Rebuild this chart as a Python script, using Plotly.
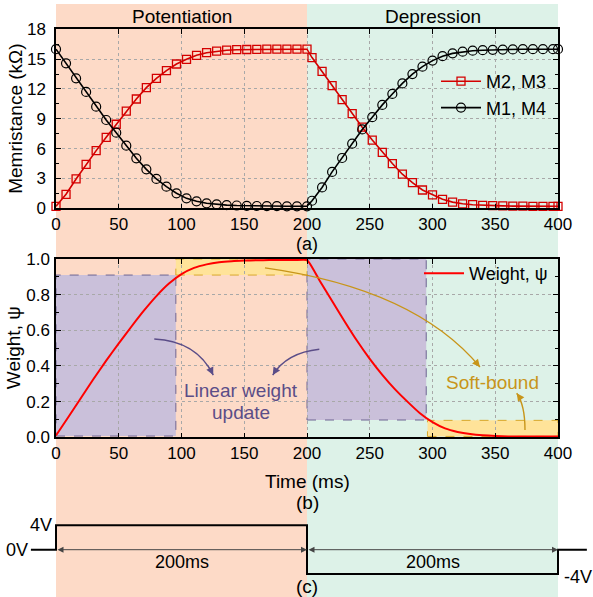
import plotly.graph_objects as go

# ---------------- data ----------------
# (a) memristance of the bridge memristors, sampled every pulse
t_m = [0, 8, 16, 24, 32, 40, 48, 56, 64, 72, 80, 88, 96, 104, 112, 120, 128, 136, 144, 152,
       160, 168, 176, 184, 192, 200,
       204, 212, 220, 228, 236, 244, 252, 260, 268, 276, 284, 292, 300, 308, 316, 324, 332,
       340, 348, 356, 364, 372, 380, 388, 396, 400]
m23 = [0.2, 1.41, 2.95, 4.42, 5.8, 7.14, 8.45, 9.78, 10.99, 12.13, 13.07, 13.84, 14.51, 14.98,
       15.38, 15.65, 15.8, 15.9, 15.95, 15.97, 15.99, 16.0, 16.0, 16.0, 16.0, 16.0,
       15.16, 13.76, 12.33, 10.93, 9.53, 8.16, 6.86, 5.63, 4.5, 3.43, 2.58, 1.84, 1.34, 0.9,
       0.62, 0.45, 0.36, 0.3, 0.26, 0.24, 0.22, 0.21, 0.2, 0.2, 0.2, 0.2]
m14 = [16.0, 14.58, 13.07, 11.7, 10.22, 8.88, 7.6, 6.3, 5.03, 3.92, 2.95, 2.17, 1.51, 1.0,
       0.7, 0.5, 0.4, 0.32, 0.28, 0.25, 0.23, 0.22, 0.21, 0.2, 0.2, 0.2,
       0.76, 2.1, 3.66, 5.06, 6.5, 7.93, 9.16, 10.4, 11.5, 12.56, 13.5, 14.24, 14.85, 15.3,
       15.58, 15.75, 15.85, 15.9, 15.94, 15.96, 15.98, 16.0, 16.0, 16.0, 16.0, 16.0]

# (b) synaptic weight
t_w = [0, 10, 20, 30, 40, 50, 60, 70, 80, 90, 100, 110, 120, 130, 140, 150, 160, 170, 180, 190,
       200, 210, 220, 230, 240, 250, 260, 270, 280, 290, 300, 310, 320, 330, 340, 350, 360, 370,
       380, 390, 400]
psi = [0.01, 0.115, 0.222, 0.328, 0.43, 0.527, 0.62, 0.71, 0.792, 0.862, 0.915, 0.95, 0.97,
       0.982, 0.988, 0.991, 0.993, 0.994, 0.994, 0.994,
       0.994, 0.88, 0.765, 0.65, 0.54, 0.44, 0.35, 0.27, 0.2, 0.135, 0.085, 0.05, 0.03, 0.018,
       0.011, 0.007, 0.005, 0.004, 0.004, 0.004, 0.004]

# linear-update and soft-bound regions: (t_start, t_end, psi_low, psi_high)
linear_regions = [(0, 95.5, 0.007, 0.91), (200, 295, 0.097, 1.0)]
soft_regions = [(95.5, 200, 0.91, 1.0), (296, 400, 0.005, 0.095)]

# (c) applied voltage pulse
pulse_t = [-20, 0, 0, 200, 200, 400, 400, 423]
pulse_v = [0, 0, 4, 4, -4, -4, 0, 0]
pulse_spans = [(0, 200), (200, 400)]
pulse_labels = ["200ms", "200ms"]

phases = [("Potentiation", 0, 200, "#FDDAC7"), ("Depression", 200, 400, "#DDF2E8")]
t_ticks = [0, 50, 100, 150, 200, 250, 300, 350, 400]
m_ticks = [0, 3, 6, 9, 12, 15, 18]
w_ticks = [0.0, 0.2, 0.4, 0.6, 0.8, 1.0]

# ---------------- layout geometry (pixels) ----------------
W, H = 593, 597
X0, X1 = 56, 558
A_TOP, A_BOT = 29.3, 208.3
B_TOP, B_BOT = 259, 437.3
V0_PX, V4_PX = 549.7, 525.3
FONT = "Liberation Sans, Arial, sans-serif"
RED_A = "#D40000"
RED_B = "#FF0000"
PURPLE = "#5B4D88"
GOLD = "#C8951A"


def py(p):
    return 1 - p / H


def label(text, xref, yref, x, y, size=19, color="black", **kw):
    d = dict(text=text, xref=xref, yref=yref, x=x, y=y, showarrow=False,
             xanchor="center", yanchor="middle",
             font=dict(size=size, color=color, family=FONT))
    d.update(kw)
    return d


kx = (X1 - X0) / 400.0
ky = B_BOT - B_TOP
kv = (V0_PX - V4_PX) / 4.0

fig = go.Figure()

fig.add_trace(go.Scatter(
    x=t_m, y=m23, mode="lines+markers", name="M2, M3", xaxis="x", yaxis="y",
    line=dict(color=RED_A, width=1.6),
    marker=dict(symbol="square-open", size=8, color=RED_A, line=dict(width=1.3, color=RED_A)),
    cliponaxis=False, legend="legend"))
fig.add_trace(go.Scatter(
    x=t_m, y=m14, mode="lines+markers", name="M1, M4", xaxis="x", yaxis="y",
    line=dict(color="black", width=1.6),
    marker=dict(symbol="circle-open", size=9, color="black", line=dict(width=1.2, color="black")),
    cliponaxis=False, legend="legend"))
fig.add_trace(go.Scatter(
    x=t_w, y=psi, mode="lines", name="Weight, \u03c8", xaxis="x2", yaxis="y2",
    line=dict(color=RED_B, width=2, shape="spline", smoothing=0.5),
    cliponaxis=False, legend="legend2"))
fig.add_trace(go.Scatter(
    x=pulse_t, y=pulse_v, mode="lines", xaxis="x3", yaxis="y3", showlegend=False,
    line=dict(color="black", width=2)))

shapes = []
annotations = []

# phase background bands
for name, t0, t1, col in phases:
    shapes.append(dict(type="rect", xref="x", yref="paper", x0=t0, x1=t1, y0=0, y1=py(4),
                       fillcolor=col, line=dict(width=0), layer="below"))
    annotations.append(label(name, "x", "paper", (t0 + t1) / 2, py(17)))

for t0, t1, p0, p1 in linear_regions:
    shapes.append(dict(type="rect", xref="x2", yref="y2", x0=t0, x1=t1, y0=p0, y1=p1,
                       fillcolor="#CAC0DA", line=dict(color="#6E6492", width=1, dash="dash"),
                       layer="below"))
for t0, t1, p0, p1 in soft_regions:
    shapes.append(dict(type="rect", xref="x2", yref="y2", x0=t0, x1=t1, y0=p0, y1=p1,
                       fillcolor="#FFE399", line=dict(color="#D9A82A", width=1, dash="dash"),
                       layer="below"))

# curved callout arrows in (time, weight) units: start, control, end
callouts = [
    ((78.3, 0.551), (111.9, 0.540), (125.3, 0.349), PURPLE),
    ((209.8, 0.494), (183.8, 0.475), (172.7, 0.349), PURPLE),
    ((166.5, 0.950), (286.1, 0.832), (337.8, 0.394), GOLD),
    ((373.7, 0.041), (373.7, 0.181), (367.1, 0.247), GOLD),
]
for (s, c, e, col) in callouts:
    shapes.append(dict(type="path", xref="x2", yref="y2",
                       path=f"M {s[0]},{s[1]} Q {c[0]},{c[1]} {e[0]},{e[1]}",
                       line=dict(color=col, width=1.4), fillcolor="rgba(0,0,0,0)",
                       layer="above"))
    dx = (e[0] - c[0]) * kx
    dy = -(e[1] - c[1]) * ky
    n = (dx * dx + dy * dy) ** 0.5
    annotations.append(dict(x=e[0], y=e[1], xref="x2", yref="y2", text="", showarrow=True,
                            ax=-7 * dx / n, ay=-7 * dy / n, arrowhead=2, arrowsize=1.1,
                            arrowwidth=1.4, arrowcolor=col, standoff=0))

annotations += [
    label("Linear weight", "x2", "y2", 147.1, 0.265, color=PURPLE),
    label("update", "x2", "y2", 147.1, 0.14, color=PURPLE),
    label("Soft-bound", "x2", "y2", 347.9, 0.31, color=GOLD),
    label("(a)", "x", "paper", 200, py(244), size=18),
    label("Time (ms)", "x", "paper", 200, py(481.5)),
    label("(b)", "x", "paper", 200, py(503)),
    label("(c)", "x3", "paper", 200, py(586)),
    label("Memristance (k\u03a9)", "paper", "paper", 16 / W, py((A_TOP + A_BOT) / 2),
          textangle=-90),
    label("Weight, \u03c8", "paper", "paper", 13 / W, py((B_TOP + B_BOT) / 2), textangle=-90),
    label("4V", "x3", "y3", 0, 4, size=18, xanchor="right", xshift=-2),
    label("0V", "x3", "y3", pulse_t[0], 0, size=18, xanchor="right", xshift=-1),
    label("-4V", "x3", "y3", pulse_t[-3], -4, size=18, xanchor="left", xshift=4, yshift=-3),
]

# duration arrows along the 0 V level
for (t0, t1), lab in zip(pulse_spans, pulse_labels):
    annotations.append(dict(x=t1, y=0, ax=t0, ay=0, xref="x3", yref="y3", axref="x3",
                            ayref="y3", text="", showarrow=True, arrowside="end+start",
                            arrowhead=2, arrowsize=1.2, arrowwidth=1, arrowcolor="#444444",
                            standoff=0, startstandoff=0))
    annotations.append(label(lab, "x3", "y3", (t0 + t1) / 2, -2.0, size=18))

axis_common = dict(
    automargin=False,
    showline=True, linecolor="black", linewidth=1.5, mirror="allticks",
    ticks="inside", ticklen=5, tickwidth=1.3, tickcolor="black",
    showgrid=True, gridcolor="#A8A8A8", griddash="dot", gridwidth=1,
    zeroline=False, tickfont=dict(size=17, color="black", family=FONT),
)

x_dom = [X0 / W, X1 / W]
fig.update_layout(
    template="none",
    width=W, height=H,
    margin=dict(l=0, r=0, t=0, b=0, autoexpand=False),
    paper_bgcolor="white", plot_bgcolor="rgba(0,0,0,0)",
    font=dict(family=FONT, color="black"),
    xaxis=dict(domain=x_dom, range=[0, 400], tickvals=t_ticks, anchor="y",
               ticklabelstandoff=0, **axis_common),
    yaxis=dict(domain=[py(A_BOT), py(A_TOP)], range=[0, 18], tickvals=m_ticks, anchor="x",
               minor=dict(ticks="inside", ticklen=3, dtick=1.5, tickcolor="black", showgrid=False),
               ticklabelstandoff=5, **axis_common),
    xaxis2=dict(domain=x_dom, range=[0, 400], tickvals=t_ticks, anchor="y2",
                ticklabelstandoff=0, **axis_common),
    yaxis2=dict(domain=[py(B_BOT), py(B_TOP)], range=[0, 1], tickvals=w_ticks,
                tickformat=".1f", anchor="x2",
                minor=dict(ticks="inside", ticklen=3, dtick=0.1, tickcolor="black", showgrid=False),
                ticklabelstandoff=1, **axis_common),
    xaxis3=dict(domain=[0, 1], range=[-X0 / kx, (W - X0) / kx], visible=False, anchor="y3",
                automargin=False),
    yaxis3=dict(domain=[0, 1], range=[-(H - V0_PX) / kv, V0_PX / kv], visible=False,
                anchor="x3", automargin=False),
    legend=dict(x=436 / W, y=py(63), xanchor="left", yanchor="top",
                bgcolor="rgba(0,0,0,0)", font=dict(size=18, color="black", family=FONT),
                tracegroupgap=0, itemwidth=40),
    legend2=dict(x=419 / W, y=py(255), xanchor="left", yanchor="top",
                 bgcolor="rgba(0,0,0,0)", font=dict(size=18, color="black", family=FONT),
                 itemwidth=40),
    shapes=shapes,
    annotations=annotations,
)

fig.write_html("out.html")
